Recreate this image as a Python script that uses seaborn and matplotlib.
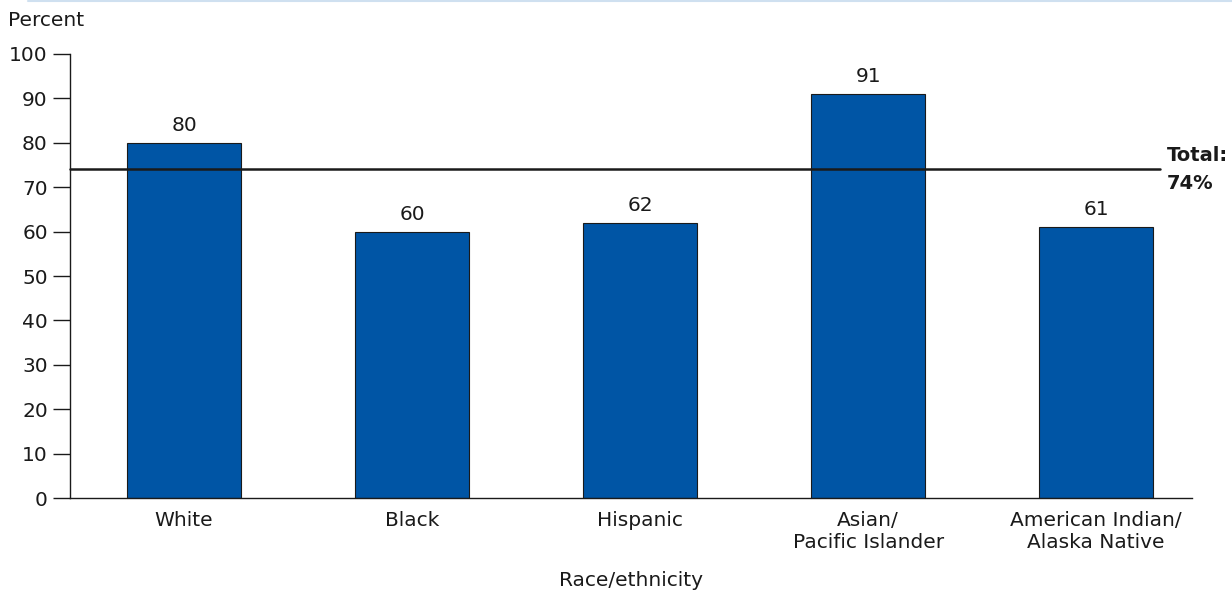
import matplotlib
matplotlib.use("Agg")
import matplotlib.pyplot as plt
import pandas as pd
import seaborn as sns

categories = ["White", "Black", "Hispanic", "Asian/\nPacific Islander",
              "American Indian/\nAlaska Native"]
values = [80, 60, 62, 91, 61]
total = 74

sns.set_style("white")
plt.rcParams['font.family'] = ['DejaVu Sans']
fs = 14.5
ink = "#1a1a1a"

df = pd.DataFrame({"group": categories, "pct": values})

fig = plt.figure(figsize=(12.32, 5.94), dpi=100)
ax = fig.add_axes([0.0568, 0.1616, 0.9107, 0.7475])

sns.barplot(data=df, x="group", y="pct", order=categories, color="#0055A5",
            saturation=1, width=0.5, edgecolor=ink, linewidth=0.8, ax=ax)

for i, v in enumerate(values):
    ax.text(i, v + 1.8, str(v), ha="center", va="bottom", fontsize=fs, color=ink)

ax.set_xlim(-0.5, 4.42)
ax.set_ylim(0, 100)
ax.set_yticks(range(0, 101, 10))
ax.tick_params(axis="y", direction="out", length=12, width=1, colors=ink,
               labelsize=fs, pad=4, left=True)
ax.tick_params(axis="x", length=0, labelsize=fs, pad=9, colors=ink)
for s in ["top", "right"]:
    ax.spines[s].set_visible(False)
for s in ["left", "bottom"]:
    ax.spines[s].set_color(ink)
    ax.spines[s].set_linewidth(1)

ax.plot([-0.5, 4.28], [total, total], color=ink, lw=1.8, clip_on=False)
ax.text(4.31, total, f"Total:\n{total}%", ha="left", va="center", fontsize=14,
        fontweight="bold", color=ink, linespacing=1.6)

ax.set_ylabel("")
ax.set_xlabel("Race/ethnicity", fontsize=fs, color=ink, labelpad=14)
fig.text(8 / 1232, 1 - 20 / 594, "Percent", ha="left", va="center", fontsize=fs,
         color=ink)
fig.add_artist(plt.Line2D([28 / 1232, 1], [1 - 1 / 594, 1 - 1 / 594],
                          color="#cfe0f0", lw=1.5))

fig.savefig("out.png", dpi=100)
